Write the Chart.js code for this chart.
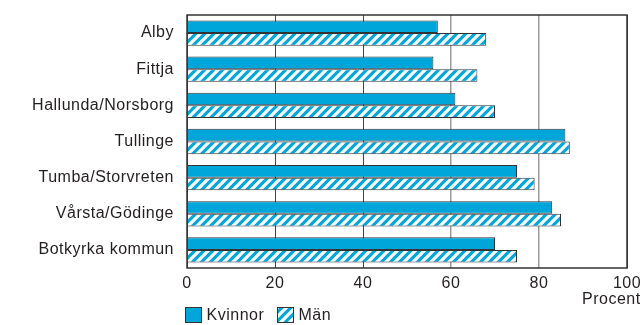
<!DOCTYPE html>
<html>
<head>
<meta charset="utf-8">
<script src="https://cdn.jsdelivr.net/npm/chart.js@4/dist/chart.umd.min.js"></script>
<style>
  html, body { margin: 0; padding: 0; background: #fff; overflow: hidden; }
  #wrap { width: 660px; height: 325px; }
</style>
</head>
<body>
<div id="wrap"><canvas id="myChart" width="660" height="325"></canvas></div>
<script>
const areas = ['Alby', 'Fittja', 'Hallunda/Norsborg', 'Tullinge', 'Tumba/Storvreten', 'Vårsta/Gödinge', 'Botkyrka kommun'];
const kvinnor = [57, 56, 61, 86, 75, 83, 70];
const man = [68, 66, 70, 87, 79, 85, 75];
const xTicks = [0, 20, 40, 60, 80, 100];

const blue = '#00a6da';
const ink = '#231f20';
const font = { family: 'Liberation Sans, Arial, sans-serif', size: 16 };

// white diagonal stripes on blue
function hatch() {
    const s = 9;
    const c = document.createElement('canvas');
    c.width = s; c.height = s;
    const g = c.getContext('2d');
    g.fillStyle = blue;
    g.fillRect(0, 0, s, s);
    g.strokeStyle = '#fff';
    g.lineWidth = 3.2;
    g.beginPath();
    [-s, 0, s].forEach(function(o) {
        g.moveTo(o - 2, s + 2);
        g.lineTo(o + s + 2, -2);
    });
    g.stroke();
    return g.createPattern(c, 'repeat');
}
const stripes = hatch();

// the print font is a little wider than Arial
const spacing = {
    id: 'spacing',
    beforeInit(chart) { chart.ctx.letterSpacing = '0.5px'; },
    beforeDraw(chart) { chart.ctx.letterSpacing = '0.5px'; }
};

const extras = {
    id: 'extras',
    afterDraw(chart) {
        const ctx = chart.ctx;
        const a = chart.chartArea;
        ctx.save();
        ctx.strokeStyle = '#333';
        ctx.lineWidth = 1.5;
        ctx.strokeRect(a.left, a.top, a.right - a.left, a.bottom - a.top);

        ctx.font = font.size + 'px ' + font.family;
        ctx.fillStyle = ink;
        ctx.textBaseline = 'middle';
        ctx.textAlign = 'left';
        ctx.fillText('Procent', 582, 300);

        // legend
        const items = [['Kvinnor', blue, 185.5], ['Män', stripes, 277.5]];
        items.forEach(function(it) {
            ctx.fillStyle = it[1];
            ctx.fillRect(it[2], 307.5, 16, 15);
            ctx.strokeStyle = '#333';
            ctx.lineWidth = 1;
            ctx.strokeRect(it[2], 307.5, 16, 15);
            ctx.fillStyle = ink;
            ctx.fillText(it[0], it[2] + 21, 315.5);
        });
        ctx.restore();
    }
};

const ctx = document.getElementById('myChart');

new Chart(ctx, {
    type: 'bar',
    data: {
        labels: areas,
        datasets: [{
            label: 'Kvinnor',
            data: kvinnor,
            backgroundColor: blue,
            borderColor: '#333',
            borderWidth: 1
        }, {
            label: 'Män',
            data: man,
            backgroundColor: stripes,
            borderColor: '#333',
            borderWidth: 1
        }]
    },
    options: {
        indexAxis: 'y',
        responsive: false,
        animation: false,
        devicePixelRatio: 1,
        categoryPercentage: 0.7,
        barPercentage: 1,
        layout: { padding: { top: 15, right: 33, left: 0, bottom: 0 } },
        plugins: {
            legend: { display: false },
            tooltip: { enabled: false }
        },
        scales: {
            x: {
                min: 0,
                max: 100,
                afterBuildTicks: function(scale) {
                    scale.ticks = xTicks.map(function(v) { return { value: v }; });
                },
                afterFit: function(scale) { scale.height = 57; },
                grid: {
                    drawTicks: false,
                    color: function(c) {
                        const v = c.tick ? c.tick.value : 0;
                        return (v === 60 || v === 80) ? '#9a9a9a' : '#444';
                    },
                    lineWidth: function(c) {
                        const v = c.tick ? c.tick.value : 0;
                        return (v === 60 || v === 80) ? 1.5 : 1;
                    }
                },
                border: { display: false },
                ticks: { color: ink, font: font, padding: 6, maxRotation: 0 }
            },
            y: {
                afterFit: function(scale) {
                    scale.width = 187;
                    scale.paddingTop = 0;
                    scale.paddingBottom = 0;
                },
                grid: { display: false, drawTicks: false },
                border: { display: false },
                ticks: { color: ink, font: font, padding: 13 }
            }
        }
    },
    plugins: [spacing, extras]
});
</script>
</body>
</html>
